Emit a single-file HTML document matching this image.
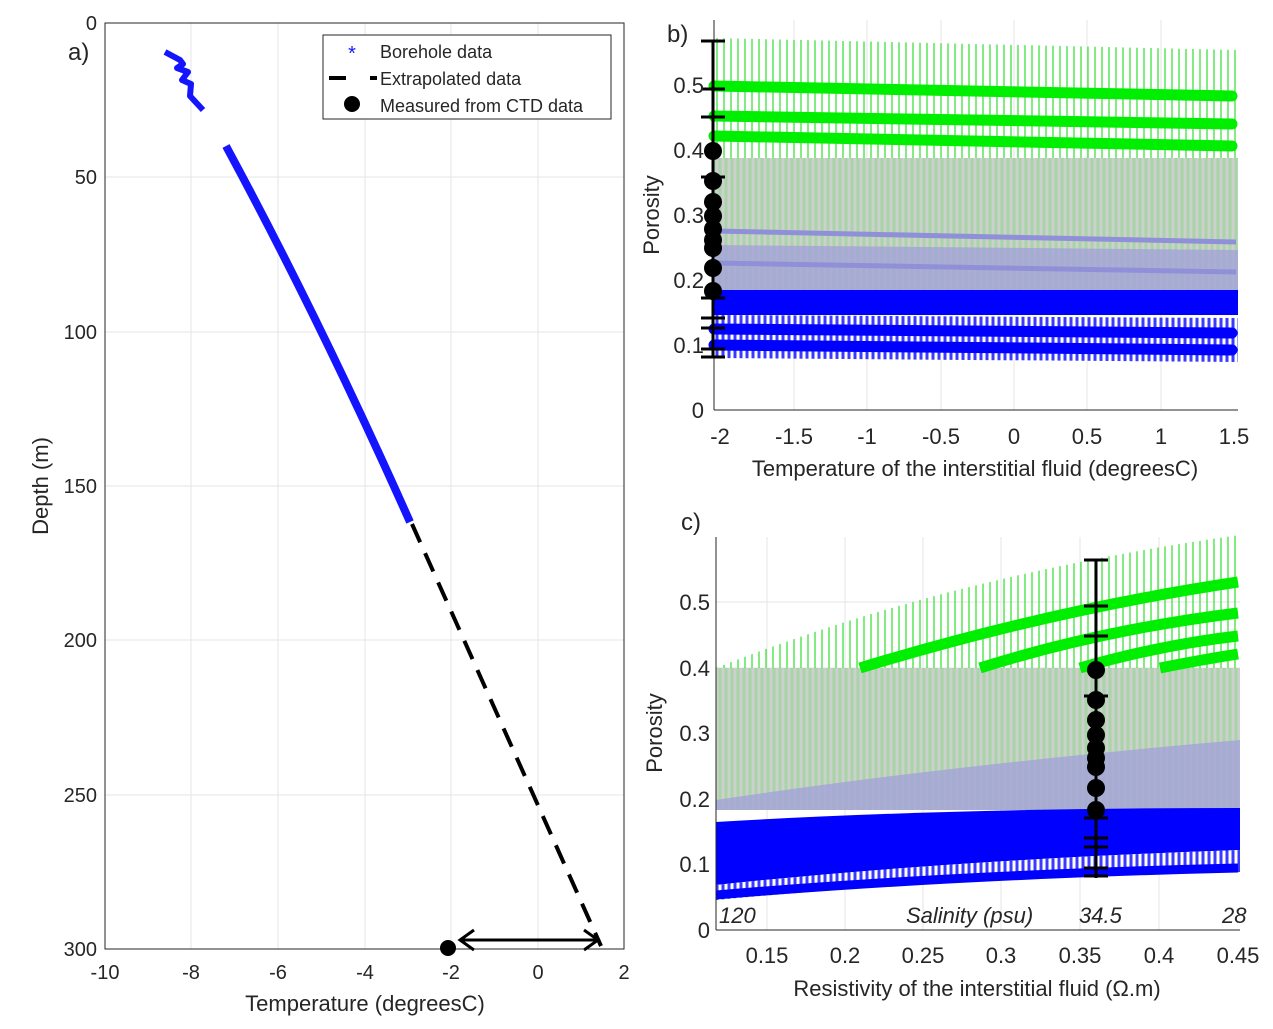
<!DOCTYPE html><html><head><meta charset="utf-8"><style>body{margin:0;background:#fff}svg{display:block}text{font-family:"Liberation Sans",sans-serif;fill:#262626}</style></head><body>
<svg width="1273" height="1029" viewBox="0 0 1273 1029">
<defs>
<pattern id="vg" width="7" height="10" patternUnits="userSpaceOnUse"><line x1="3" y1="0" x2="3" y2="10" stroke="#2de02d" stroke-width="1.2"/></pattern>
<pattern id="vgr" width="6" height="10" patternUnits="userSpaceOnUse"><rect width="6" height="10" fill="#a6d6a6"/><line x1="3" y1="0" x2="3" y2="10" stroke="#cfcfcf" stroke-width="3"/></pattern>
<pattern id="vb" width="6" height="10" patternUnits="userSpaceOnUse"><rect width="6" height="10" fill="#fff"/><line x1="3" y1="0" x2="3" y2="10" stroke="#3a3aff" stroke-width="3"/></pattern>
<clipPath id="cc"><rect x="716" y="530" width="525" height="400"/></clipPath>
</defs>
<!-- Panel a -->
<g stroke="#e6e6e6" stroke-width="1">
<line x1="191" y1="23" x2="191" y2="949"/><line x1="278" y1="23" x2="278" y2="949"/><line x1="365" y1="23" x2="365" y2="949"/><line x1="451" y1="23" x2="451" y2="949"/><line x1="538" y1="23" x2="538" y2="949"/>
<line x1="105" y1="177" x2="624" y2="177"/><line x1="105" y1="332" x2="624" y2="332"/><line x1="105" y1="486" x2="624" y2="486"/><line x1="105" y1="640" x2="624" y2="640"/><line x1="105" y1="795" x2="624" y2="795"/>
</g>
<rect x="105" y="23" width="519" height="926" fill="none" stroke="#262626" stroke-width="1"/>
<g font-size="20" text-anchor="end"><text x="97" y="30">0</text><text x="97" y="184">50</text><text x="97" y="339">100</text><text x="97" y="493">150</text><text x="97" y="647">200</text><text x="97" y="802">250</text><text x="97" y="956">300</text></g>
<g font-size="20" text-anchor="middle"><text x="105" y="979">-10</text><text x="191" y="979">-8</text><text x="278" y="979">-6</text><text x="365" y="979">-4</text><text x="451" y="979">-2</text><text x="538" y="979">0</text><text x="624" y="979">2</text></g>
<text x="365" y="1011" font-size="22" text-anchor="middle">Temperature (degreesC)</text>
<text x="48" y="486" font-size="22" text-anchor="middle" transform="rotate(-90 48 486)">Depth (m)</text>
<text x="68" y="60" font-size="24">a)</text>
<polyline points="165,52 180,60 183,64 177,68 188,72 182,80 191,84 190,96 203,110" fill="none" stroke="#1414ff" stroke-width="6" stroke-linejoin="round"/>
<path d="M226,146 Q320,320 410,522" fill="none" stroke="#1414ff" stroke-width="8"/>
<line x1="412" y1="524" x2="601" y2="946" stroke="#000" stroke-width="4" stroke-dasharray="20,12"/>
<circle cx="448" cy="948" r="8" fill="#000"/>
<line x1="462" y1="940" x2="596" y2="940" stroke="#000" stroke-width="3"/>
<path d="M474,930 L460,940 L474,950" fill="none" stroke="#000" stroke-width="3"/><path d="M584,930 L598,940 L584,950" fill="none" stroke="#000" stroke-width="3"/>
<rect x="323" y="35" width="288" height="84" fill="#fff" stroke="#262626"/>
<text x="352" y="60" font-size="20" text-anchor="middle" style="fill:#1414ff">*</text>
<text x="380" y="58" font-size="18">Borehole data</text>
<line x1="329" y1="78" x2="346" y2="78" stroke="#000" stroke-width="4"/><line x1="370" y1="78" x2="377" y2="78" stroke="#000" stroke-width="4"/>
<text x="380" y="85" font-size="18">Extrapolated data</text>
<circle cx="352" cy="104" r="8" fill="#000"/>
<text x="380" y="112" font-size="18">Measured from CTD data</text>

<!-- Panel b -->
<g stroke="#e6e6e6"><line x1="794" y1="20" x2="794" y2="410"/><line x1="867" y1="20" x2="867" y2="410"/><line x1="941" y1="20" x2="941" y2="410"/><line x1="1014" y1="20" x2="1014" y2="410"/><line x1="1087" y1="20" x2="1087" y2="410"/><line x1="1161" y1="20" x2="1161" y2="410"/></g>
<polygon points="714,38 1238,50 1238,158 714,158" fill="url(#vg)"/>
<polygon points="714,158 1238,158 1238,290 714,290" fill="url(#vgr)"/>
<polygon points="714,245 1238,250 1238,290 714,290" fill="#a3a3d8" opacity="0.8"/>
<polygon points="714,290 1238,290 1238,315 714,315" fill="#0000ff"/>
<polygon points="714,315 1238,318 1238,362 714,358" fill="url(#vb)"/>
<g stroke="#00ee00" stroke-width="11" stroke-linecap="round"><line x1="714" y1="86" x2="1232" y2="96"/><line x1="714" y1="116" x2="1232" y2="124"/><line x1="714" y1="136" x2="1232" y2="146"/></g>
<g stroke="#0000ff" stroke-width="11" stroke-linecap="round"><line x1="714" y1="329" x2="1232" y2="333"/><line x1="714" y1="345" x2="1232" y2="350"/></g>
<g stroke="#9090d8" stroke-width="5"><line x1="714" y1="231" x2="1236" y2="242"/><line x1="714" y1="263" x2="1236" y2="272"/></g>
<line x1="714" y1="20" x2="714" y2="410" stroke="#262626"/><line x1="714" y1="410" x2="1238" y2="410" stroke="#262626"/>
<g stroke="#000" stroke-width="3"><line x1="713" y1="41" x2="713" y2="358"/><line x1="701" y1="41" x2="725" y2="41"/><line x1="701" y1="89" x2="725" y2="89"/><line x1="701" y1="117" x2="725" y2="117"/><line x1="701" y1="177" x2="725" y2="177"/><line x1="701" y1="298" x2="725" y2="298"/><line x1="701" y1="318" x2="725" y2="318"/><line x1="701" y1="328" x2="725" y2="328"/><line x1="701" y1="349" x2="725" y2="349"/><line x1="701" y1="357" x2="725" y2="357"/></g>
<g fill="#000"><circle cx="713" cy="151" r="9"/><circle cx="713" cy="181" r="9"/><circle cx="713" cy="202" r="9"/><circle cx="713" cy="216" r="9"/><circle cx="713" cy="229" r="9"/><circle cx="713" cy="240" r="9"/><circle cx="713" cy="248" r="9"/><circle cx="713" cy="268" r="9"/><circle cx="713" cy="291" r="9"/></g>
<g font-size="22" text-anchor="end"><text x="704" y="418">0</text><text x="704" y="353">0.1</text><text x="704" y="288">0.2</text><text x="704" y="223">0.3</text><text x="704" y="158">0.4</text><text x="704" y="93">0.5</text></g>
<g font-size="22" text-anchor="middle"><text x="720" y="444">-2</text><text x="794" y="444">-1.5</text><text x="867" y="444">-1</text><text x="941" y="444">-0.5</text><text x="1014" y="444">0</text><text x="1087" y="444">0.5</text><text x="1161" y="444">1</text><text x="1234" y="444">1.5</text></g>
<text x="975" y="476" font-size="22" text-anchor="middle">Temperature of the interstitial fluid (degreesC)</text>
<text x="659" y="215" font-size="22" text-anchor="middle" transform="rotate(-90 659 215)">Porosity</text>
<text x="667" y="42" font-size="24">b)</text>

<!-- Panel c -->
<g stroke="#e6e6e6"><line x1="767" y1="537" x2="767" y2="930"/><line x1="845" y1="537" x2="845" y2="930"/><line x1="923" y1="537" x2="923" y2="930"/><line x1="1001" y1="537" x2="1001" y2="930"/><line x1="1080" y1="537" x2="1080" y2="930"/><line x1="1159" y1="537" x2="1159" y2="930"/><line x1="716" y1="602" x2="1240" y2="602"/><line x1="716" y1="668" x2="1240" y2="668"/></g>
<g clip-path="url(#cc)">
<path d="M716,668 Q950,575 1240,535 L1240,668 Z" fill="url(#vg)"/>
<rect x="716" y="668" width="524" height="142" fill="url(#vgr)"/>
<path d="M716,800 Q950,765 1240,740 L1240,810 L716,810 Z" fill="#a3a3d8" opacity="0.8"/>
<path d="M716,822 Q950,808 1240,808 L1240,818 L716,826 Z" fill="#0000ff"/>
<path d="M716,826 Q950,815 1240,815 L1240,850 Q950,860 716,885 Z" fill="#0000ff"/>
<path d="M716,885 Q950,860 1240,850 L1240,872 Q950,878 716,900 Z" fill="url(#vb)"/>
<g stroke="#0000ff" stroke-width="9" fill="none"><path d="M716,895 Q950,875 1238,868"/></g>
<g stroke="#00ee00" stroke-width="11" fill="none"><path d="M860,668 Q1050,610 1238,582"/><path d="M980,668 Q1100,630 1238,613"/><path d="M1080,668 Q1160,645 1238,636"/><path d="M1160,668 Q1200,660 1238,654"/></g>
</g>
<line x1="716" y1="537" x2="716" y2="930" stroke="#262626"/><line x1="716" y1="930" x2="1240" y2="930" stroke="#262626"/>
<g stroke="#000" stroke-width="3"><line x1="1096" y1="560" x2="1096" y2="878"/><line x1="1084" y1="560" x2="1108" y2="560"/><line x1="1084" y1="606" x2="1108" y2="606"/><line x1="1084" y1="636" x2="1108" y2="636"/><line x1="1084" y1="696" x2="1108" y2="696"/><line x1="1084" y1="818" x2="1108" y2="818"/><line x1="1084" y1="838" x2="1108" y2="838"/><line x1="1084" y1="847" x2="1108" y2="847"/><line x1="1084" y1="868" x2="1108" y2="868"/><line x1="1084" y1="876" x2="1108" y2="876"/></g>
<g fill="#000"><circle cx="1096" cy="670" r="9"/><circle cx="1096" cy="700" r="9"/><circle cx="1096" cy="720" r="9"/><circle cx="1096" cy="735" r="9"/><circle cx="1096" cy="748" r="9"/><circle cx="1096" cy="758" r="9"/><circle cx="1096" cy="767" r="9"/><circle cx="1096" cy="788" r="9"/><circle cx="1096" cy="810" r="9"/></g>
<g font-size="22" text-anchor="end"><text x="710" y="938">0</text><text x="710" y="872">0.1</text><text x="710" y="807">0.2</text><text x="710" y="741">0.3</text><text x="710" y="676">0.4</text><text x="710" y="610">0.5</text></g>
<g font-size="22" text-anchor="middle"><text x="767" y="963">0.15</text><text x="845" y="963">0.2</text><text x="923" y="963">0.25</text><text x="1001" y="963">0.3</text><text x="1080" y="963">0.35</text><text x="1159" y="963">0.4</text><text x="1238" y="963">0.45</text></g>
<g font-size="22" font-style="italic"><text x="719" y="923">120</text><text x="906" y="923">Salinity (psu)</text><text x="1079" y="923">34.5</text><text x="1222" y="923">28</text></g>
<text x="977" y="996" font-size="22" text-anchor="middle">Resistivity of the interstitial fluid (Ω.m)</text>
<text x="662" y="733" font-size="22" text-anchor="middle" transform="rotate(-90 662 733)">Porosity</text>
<text x="681" y="530" font-size="24">c)</text>
</svg></body></html>
